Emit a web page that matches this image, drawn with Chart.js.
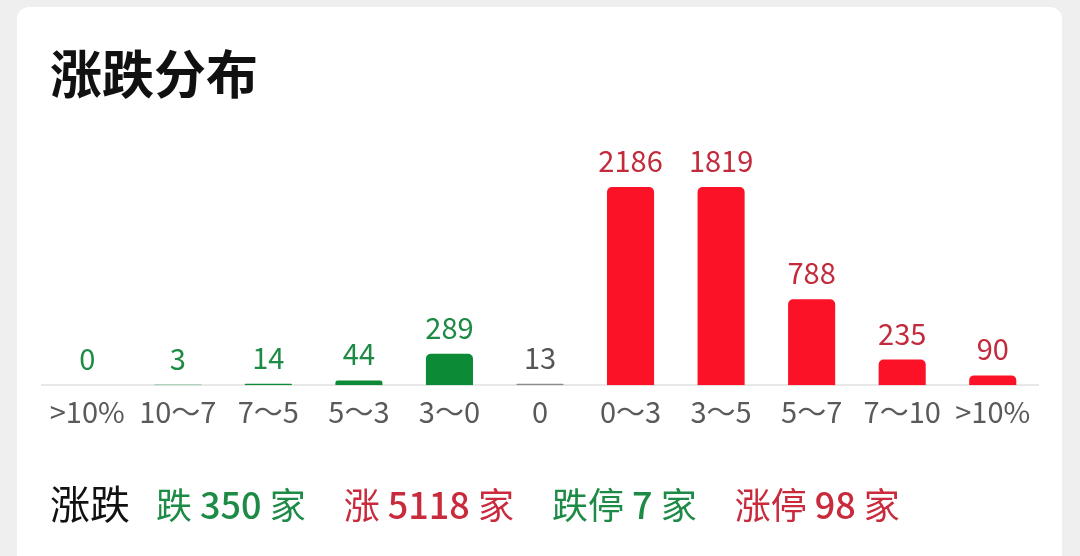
<!DOCTYPE html>
<html>
<head>
<meta charset="utf-8">
<script src="https://cdn.jsdelivr.net/npm/chart.js@4.4.1/dist/chart.umd.min.js"></script>
<style>
  html, body { margin: 0; padding: 0; background: #efefef; }
  body { width: 1080px; height: 556px; position: relative; overflow: hidden; font-family: "Noto Sans CJK SC", "Noto Sans", sans-serif; }
  .card { position: absolute; left: 17px; top: 7px; width: 1045px; height: 570px; background: #fff; border-radius: 12px; }
  .title { position: absolute; left: 50px; top: 43px; font-size: 52px; font-weight: 700; color: #111; line-height: 1.1; }
  #wrap { position: absolute; left: 0; top: 0; width: 1080px; height: 556px; }
  .summary { position: absolute; left: 50px; top: 476px; display: flex; align-items: baseline; gap: 38px; font-size: 36px; line-height: 1.3; }
  .summary .head { font-size: 40px; color: #111; margin-right: -12px; }
  .summary .g { color: #1d8a45; }
  .summary .r { color: #c92b3d; }
  .summary b { font-weight: 500; }
</style>
</head>
<body>
<div class="card"></div>
<div class="title">涨跌分布</div>
<div id="wrap"><canvas id="chart"></canvas></div>
<div class="summary">
  <span class="head">涨跌</span>
  <span class="g">跌 <b>350</b> 家</span>
  <span class="r">涨 <b>5118</b> 家</span>
  <span class="g">跌停 <b>7</b> 家</span>
  <span class="r">涨停 <b>98</b> 家</span>
</div>
<script>
const categories = ['>10%', '10～7', '7～5', '5～3', '3～0', '0', '0～3', '3～5', '5～7', '7～10', '>10%'];
const counts = [0, 3, 14, 44, 289, 13, 2186, 1819, 788, 235, 90];
// which side each bucket belongs to: down / flat / up
const sides = ['down', 'down', 'down', 'down', 'down', 'flat', 'up', 'up', 'up', 'up', 'up'];
// the app caps the tallest bars at this value
const Y_MAX = 1819;

const barColors = { down: '#0c8a36', flat: '#8c8c8c', up: '#fb1226' };
const labelColors = { down: '#1d8a45', flat: '#555555', up: '#c22b3c' };

// Draw the count above each bar
const valueLabels = {
  id: 'valueLabels',
  afterDatasetsDraw(chart) {
    const ctx = chart.ctx;
    const meta = chart.getDatasetMeta(0);
    ctx.save();
    ctx.font = '29px "Noto Sans CJK SC", "Noto Sans", sans-serif';
    ctx.textAlign = 'center';
    ctx.textBaseline = 'alphabetic';
    meta.data.forEach((bar, i) => {
      ctx.fillStyle = labelColors[sides[i]];
      ctx.fillText(String(counts[i]), bar.x, bar.y - 15);
    });
    ctx.restore();
  }
};

new Chart(document.getElementById('chart').getContext('2d'), {
  type: 'bar',
  data: {
    labels: categories,
    datasets: [{
      data: counts.map(v => Math.min(v, Y_MAX)),
      backgroundColor: sides.map(s => barColors[s]),
      borderRadius: { topLeft: 5, topRight: 5 },
      borderSkipped: 'bottom',
      categoryPercentage: 1,
      barPercentage: 0.52
    }]
  },
  options: {
    responsive: true,
    maintainAspectRatio: false,
    animation: false,
    layout: { padding: { left: 42, right: 42, top: 187, bottom: 126 } },
    plugins: { legend: { display: false }, tooltip: { enabled: false } },
    scales: {
      x: {
        grid: { display: false },
        border: { color: '#e8e8e8', width: 2 },
        ticks: {
          color: '#5a5a5a',
          padding: 1,
          maxRotation: 0,
          autoSkip: false,
          font: { size: 29, family: '"Noto Sans CJK SC", "Noto Sans", sans-serif' }
        }
      },
      y: { display: false, min: 0, max: Y_MAX }
    }
  },
  plugins: [valueLabels]
});
</script>
</body>
</html>
